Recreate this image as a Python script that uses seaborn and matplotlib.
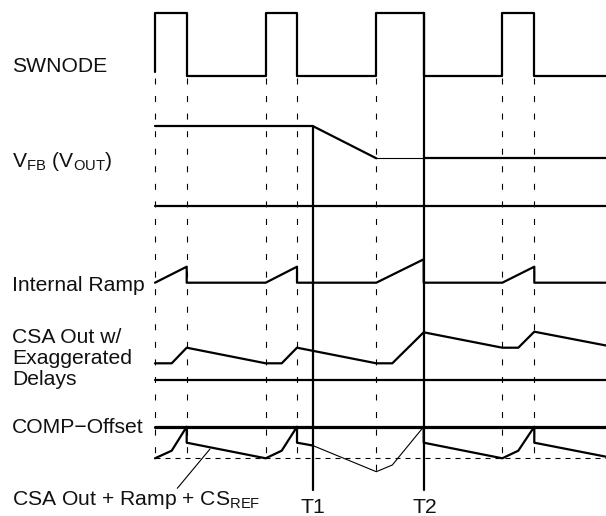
import pandas as pd
import matplotlib.pyplot as plt
import seaborn as sns

# time axis (edges of the four switching pulses), in picture units
t_on = [155, 265.7, 376.3, 502.3]
t_off = [186.7, 297, 423.7, 534.3]
t_delay = [171.7, 281.7, 392.3, 518.3]
t_end = 606
t1 = 312.7
t2 = 423.7

# signal traces (x = time, y = level in the drawing)
sw_x = [155, 155, 186.7, 186.7, 265.7, 265.7, 297, 297, 376.3, 376.3, 423.7, 423.7, 502.3, 502.3, 534.3, 534.3, 606]
sw_y = [72, 12.7, 12.7, 76, 76, 12.7, 12.7, 76, 76, 12.7, 12.7, 76, 76, 12.7, 12.7, 76, 76]

vfb_x = [155, 312.7, 376.3]
vfb_y = [126, 126, 158.3]
vfb_thin_x = [376.3, 423.7]
vfb_thin_y = [158.3, 158.3]
vfb_end_x = [423.7, 606]
vfb_end_y = [158.3, 158.3]

ramp_x = [155, 186.7, 186.7, 265.7, 297, 297, 376.3, 423.7, 423.7, 502.3, 534.3, 534.3, 606]
ramp_y = [282.7, 266.7, 282.7, 282.7, 266.7, 282.7, 282.7, 259.3, 282.7, 282.7, 266.7, 282.7, 282.7]

csa_x = [155, 171.7, 186.7, 265.7, 281.7, 297, 376.3, 392.3, 423.7, 502.3, 518.3, 534.3, 606]
csa_y = [363.3, 363.3, 347.7, 363.3, 363.3, 347.7, 363.3, 363.3, 332.3, 347.7, 347.7, 331.7, 345.5]

sum_x = [155, 171.7, 186.7, 186.7, 265.7, 281.7, 297, 297, 312.7]
sum_y = [458.3, 450.7, 426.7, 442.7, 458.3, 450.7, 426.7, 442.7, 445.5]
sum_thin_x = [312.7, 376.3, 392.3, 423.7]
sum_thin_y = [445.5, 471.7, 465, 426.7]
sum_end_x = [423.7, 423.7, 502.3, 518.3, 534.3, 534.3, 606]
sum_end_y = [426.7, 442.7, 458.3, 450.7, 426.7, 442.7, 456.7]

vfb_ref_y = 206
csa_ref_y = 380
comp_y = 426.7
csref_y = 458.3

labels = ['SWNODE', r'V$_\mathrm{FB}$ (V$_\mathrm{OUT}$)', 'Internal Ramp',
          'CSA Out w/', 'Exaggerated', 'Delays', 'COMP\u2212Offset',
          r'CSA Out + Ramp + CS$_\mathrm{REF}$']
label_y = [71.7, 166.7, 290.7, 343, 364, 385, 433.3, 505]

sns.set_theme(style='white')
plt.rcParams['font.family'] = ['Liberation Sans', 'DejaVu Sans']
plt.rcParams['mathtext.fontset'] = 'custom'
plt.rcParams['mathtext.rm'] = 'Liberation Sans'

fig = plt.figure(figsize=(6.06, 5.16), dpi=100)
ax = fig.add_axes([0, 0, 1, 1])
ax.set_xlim(0, 606)
ax.set_ylim(516, 0)
ax.axis('off')

thick = 1.6
thin = 0.8


def trace(x, y, lw, **kw):
    df = pd.DataFrame({'t': x, 'v': y})
    sns.lineplot(data=df, x='t', y='v', sort=False, estimator=None,
                 color='black', linewidth=lw, ax=ax, **kw)


# dashed timing guides
dash_v = (0, (5.4, 10.4))
for t in t_on + t_off:
    if t == t2:
        continue
    bottom = 471.7 if t == 376.3 else csref_y
    trace([t, t], [78, bottom], thin, linestyle=dash_v)
trace([155, t_end], [csref_y, csref_y], thin, linestyle=(0, (4.5, 4.5)))

# signals
trace(sw_x, sw_y, thick)
trace(vfb_x, vfb_y, thick)
trace(vfb_thin_x, vfb_thin_y, thin)
trace(vfb_end_x, vfb_end_y, thick)
trace([155, t_end], [vfb_ref_y, vfb_ref_y], thick)
trace(ramp_x, ramp_y, thick)
trace(csa_x, csa_y, thick)
trace([155, t_end], [csa_ref_y, csa_ref_y], thick)
trace([155, t_end], [comp_y, comp_y], 2.3)
trace(sum_x, sum_y, thick)
trace(sum_thin_x, sum_thin_y, thin)
trace(sum_end_x, sum_end_y, thick)

# T1 / T2 markers
trace([t1, t1], [126, 490], thick)
trace([t2, t2], [12.7, 490], thick)

# leader line to the summed signal
trace([210, 177.3], [449, 488.3], thin)

fs = 15.2
for txt, yy in zip(labels, label_y):
    ax.text(12, yy, txt, fontsize=fs, ha='left', va='baseline', color='#111111')
ax.text(t1, 513, 'T1', fontsize=fs, ha='center', va='baseline', color='#111111')
ax.text(t2 + 1, 513, 'T2', fontsize=fs, ha='center', va='baseline', color='#111111')

fig.savefig('out.png', dpi=100)
